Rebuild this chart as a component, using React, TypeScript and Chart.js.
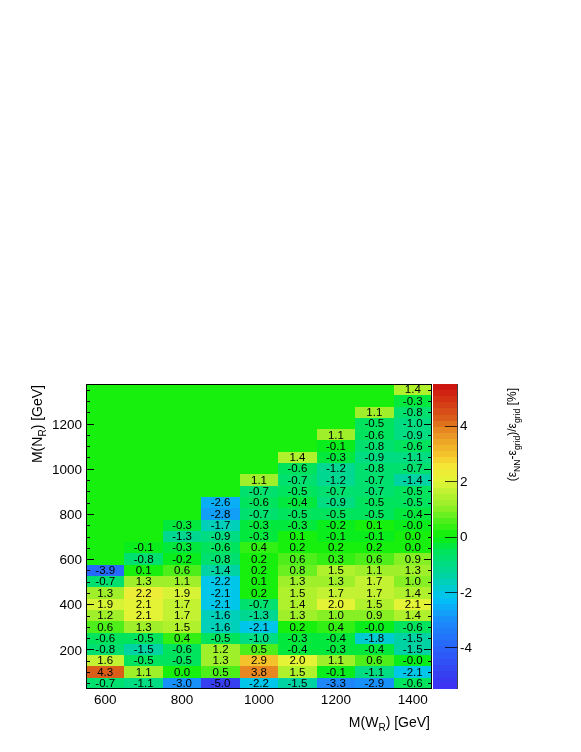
import React, { useEffect, useRef } from 'react';
import { Chart, registerables } from 'chart.js';

Chart.register(...registerables);

// Bin centres (GeV)
const wrMasses = [600, 700, 800, 900, 1000, 1100, 1200, 1300, 1400];
const nrMasses = [50, 100, 150, 200, 250, 300, 350, 400, 450, 500, 550, 600, 650, 700,
  750, 800, 850, 900, 950, 1000, 1050, 1100, 1150, 1200, 1250, 1300, 1350];

// (eps_NN - eps_grid)/eps_grid [%] for each W_R mass, from the lowest N_R mass upward
const diff600 = [-0.7, 4.3, 1.6, -0.8, -0.6, 0.6, 1.2, 1.9, 1.3, -0.7, -3.9];
const diff700 = [-1.1, 1.1, -0.5, -1.5, -0.5, 1.3, 2.1, 2.1, 2.2, 1.3, 0.1, -0.8, -0.1];
const diff800 = [-3.0, 0.03, -0.5, -0.6, 0.4, 1.5, 1.7, 1.7, 1.9, 1.1, 0.6, -0.2, -0.3, -1.3, -0.3];
const diff900 = [-5.0, 0.5, 1.3, 1.2, -0.5, -1.6, -1.6, -2.1, -2.1, -2.2, -1.4, -0.8, -0.6, -0.9, -1.7, -2.8, -2.6];
const diff1000 = [-2.2, 3.8, 2.9, 0.5, -1.0, -2.1, -1.3, -0.7, 0.2, 0.1, 0.2, 0.2, 0.4, -0.3, -0.3, -0.7, -0.6, -0.7, 1.1];
const diff1100 = [-1.5, 1.5, 2.0, -0.4, -0.3, 0.2, 1.3, 1.4, 1.5, 1.3, 0.8, 0.6, 0.2, 0.1, -0.3, -0.5, -0.4, -0.5, -0.7, -0.6, 1.4];
const diff1200 = [-3.3, -0.1, 1.1, -0.3, -0.4, 0.4, 1.0, 2.0, 1.7, 1.3, 1.5, 0.3, 0.2, -0.1, -0.2, -0.5, -0.9, -0.7, -1.2, -1.2, -0.3, -0.1, 1.1];
const diff1300 = [-2.9, -1.1, 0.6, -0.4, -1.8, -0.03, 0.9, 1.5, 1.7, 1.7, 1.1, 0.6, 0.2, -0.1, 0.1, -0.5, -0.5, -0.7, -0.7, -0.8, -0.9, -0.8, -0.6, -0.5, 1.1];
const diff1400 = [-0.6, -2.1, -0.03, -1.5, -1.5, -0.6, 1.4, 2.1, 1.4, 1.0, 1.3, 0.9, 0.03, 0.03, -0.03, -0.4, -0.5, -0.5, -1.4, -0.7, -1.1, -0.6, -0.9, -1.0, -0.8, -0.3, 1.4];

const diffColumns = [diff600, diff700, diff800, diff900, diff1000, diff1100, diff1200, diff1300, diff1400];

// Axis ranges and tick labels
const xRange = [550, 1450];
const yRange = [25, 1375];
const zRange = [-5.5, 5.5];
const xTickLabels = [600, 800, 1000, 1200, 1400];
const yTickLabels = [200, 400, 600, 800, 1000, 1200];
const zTickLabels = [-4, -2, 0, 2, 4];
const minorStep = 50;

// palette stops [value, r, g, b]
const paletteStops: number[][] = [
  [-5.5, 62, 48, 245],
  [-5.0, 55, 62, 240],
  [-4.0, 40, 100, 250],
  [-3.0, 25, 142, 250],
  [-2.2, 0, 196, 245],
  [-1.5, 0, 210, 168],
  [-1.0, 0, 220, 130],
  [-0.5, 0, 228, 88],
  [0.0, 10, 240, 10],
  [0.5, 70, 238, 25],
  [1.1, 150, 240, 40],
  [1.6, 190, 242, 48],
  [2.0, 225, 245, 55],
  [2.5, 245, 232, 55],
  [2.9, 245, 200, 45],
  [3.8, 232, 140, 35],
  [4.3, 218, 92, 25],
  [5.0, 210, 45, 20],
  [5.5, 205, 15, 15],
];
const nLevels = 50;

function interpColor(v: number): string {
  const s = paletteStops;
  if (v <= s[0][0]) return `rgb(${s[0][1]},${s[0][2]},${s[0][3]})`;
  for (let i = 1; i < s.length; i++) {
    if (v <= s[i][0]) {
      const t = (v - s[i - 1][0]) / (s[i][0] - s[i - 1][0]);
      const c = [1, 2, 3].map((k) => Math.round(s[i - 1][k] + t * (s[i][k] - s[i - 1][k])));
      return `rgb(${c[0]},${c[1]},${c[2]})`;
    }
  }
  const l = s[s.length - 1];
  return `rgb(${l[1]},${l[2]},${l[3]})`;
}

function levelOf(v: number): number {
  const f = (v - zRange[0]) / (zRange[1] - zRange[0]);
  return Math.max(0, Math.min(nLevels - 1, Math.floor(f * nLevels)));
}
function levelColor(level: number): string {
  const dz = (zRange[1] - zRange[0]) / nLevels;
  return interpColor(zRange[0] + (level + 0.5) * dz);
}
function colorFor(v: number): string {
  return levelColor(levelOf(v));
}

const FONT = '"Liberation Sans", Arial, Helvetica, sans-serif';
const font = (size: number) => `${size}px ${FONT}`;

type Seg = { t: string; sub?: boolean };
function drawRich(ctx: CanvasRenderingContext2D, segs: Seg[], size: number, x: number, y: number, rot: number) {
  ctx.save();
  ctx.translate(x, y);
  ctx.rotate(rot);
  ctx.textAlign = 'left';
  ctx.textBaseline = 'alphabetic';
  ctx.fillStyle = '#000';
  const subSize = size * 0.72;
  const widths = segs.map((s) => {
    ctx.font = font(s.sub ? subSize : size);
    return ctx.measureText(s.t).width;
  });
  const total = widths.reduce((a, b) => a + b, 0);
  let pos = -total;
  segs.forEach((s, i) => {
    ctx.font = font(s.sub ? subSize : size);
    ctx.fillText(s.t, pos, s.sub ? size * 0.32 : 0);
    pos += widths[i];
  });
  ctx.restore();
}

const heatmapPlugin = {
  id: 'heatmap',
  beforeDatasetsDraw(chart: any) {
    const { ctx, chartArea: ca, scales } = chart;
    const xs = scales.x;
    const ys = scales.y;
    const hx = (wrMasses[1] - wrMasses[0]) / 2;
    const hy = (nrMasses[1] - nrMasses[0]) / 2;
    ctx.save();
    ctx.fillStyle = colorFor(0);
    ctx.fillRect(ca.left, ca.top, ca.right - ca.left, ca.bottom - ca.top);
    const data = chart.data.datasets[0].data as { x: number; y: number; v: number }[];
    for (const d of data) {
      const x0 = Math.round(xs.getPixelForValue(d.x - hx));
      const x1 = Math.round(xs.getPixelForValue(d.x + hx));
      const y0 = Math.round(ys.getPixelForValue(d.y + hy));
      const y1 = Math.round(ys.getPixelForValue(d.y - hy));
      ctx.fillStyle = colorFor(d.v);
      ctx.fillRect(x0, y0, x1 - x0, y1 - y0);
    }
    ctx.fillStyle = '#000';
    ctx.font = font(11.5);
    ctx.textAlign = 'center';
    ctx.textBaseline = 'middle';
    for (const d of data) {
      const cx = xs.getPixelForValue(d.x);
      const cy = ys.getPixelForValue(d.y);
      ctx.fillText(d.v.toFixed(1), cx, cy + 0.5);
    }
    ctx.restore();
  },
  afterDraw(chart: any) {
    const { ctx, chartArea: ca, scales } = chart;
    const xs = scales.x;
    const ys = scales.y;
    const zs = scales.z;
    ctx.save();
    ctx.strokeStyle = '#000';
    ctx.lineWidth = 1;
    // y ticks (left and right)
    ctx.beginPath();
    for (let v = yRange[0] + 25; v <= yRange[1]; v += minorStep) {
      const py = Math.round(ys.getPixelForValue(v)) + 0.5;
      const len = yTickLabels.includes(v) ? 8 : 4;
      ctx.moveTo(ca.left, py); ctx.lineTo(ca.left + len, py);
      ctx.moveTo(ca.right, py); ctx.lineTo(ca.right - len, py);
    }
    ctx.stroke();
    // frame
    ctx.strokeRect(Math.round(ca.left) + 0.5, Math.round(ca.top) + 0.5,
      Math.round(ca.right - ca.left) - 1, Math.round(ca.bottom - ca.top) - 1);

    // tick labels
    ctx.fillStyle = '#000';
    ctx.font = font(13.5);
    ctx.textBaseline = 'middle';
    ctx.textAlign = 'center';
    for (const v of xTickLabels) ctx.fillText(String(v), xs.getPixelForValue(v), ca.bottom + 11);
    ctx.textAlign = 'right';
    for (const v of yTickLabels) ctx.fillText(String(v), ca.left - 4, ys.getPixelForValue(v) + 1.5);

    // colour bar
    const cbL = Math.round(zs.left) + 1;
    const cbR = cbL + 24;
    const dz = (zRange[1] - zRange[0]) / nLevels;
    for (let i = 0; i < nLevels; i++) {
      const yA = Math.round(zs.getPixelForValue(zRange[0] + i * dz));
      const yB = Math.round(zs.getPixelForValue(zRange[0] + (i + 1) * dz));
      ctx.fillStyle = levelColor(i);
      ctx.fillRect(cbL, yB, cbR - cbL, yA - yB);
    }
    ctx.beginPath();
    ctx.moveTo(cbR + 0.5, zs.top);
    ctx.lineTo(cbR + 0.5, zs.bottom);
    for (const v of zTickLabels) {
      const py = Math.round(zs.getPixelForValue(v)) + 0.5;
      ctx.moveTo(cbR + 0.5, py);
      ctx.lineTo(cbR - 12, py);
    }
    ctx.strokeStyle = 'rgba(0,0,0,0.75)';
    ctx.stroke();
    ctx.fillStyle = '#000';
    ctx.textAlign = 'left';
    for (const v of zTickLabels) ctx.fillText(String(v), cbR + 3, zs.getPixelForValue(v) + 1);
    ctx.restore();

    // titles
    drawRich(ctx, [{ t: 'M(W' }, { t: 'R', sub: true }, { t: ') [GeV]' }], 14, ca.right - 2, 727, 0);
    drawRich(ctx, [{ t: 'M(N' }, { t: 'R', sub: true }, { t: ') [GeV]' }], 14, 42, ca.top + 1, -Math.PI / 2);
    drawRich(ctx, [
      { t: '(ε' }, { t: 'NN', sub: true }, { t: '-ε' }, { t: 'grid', sub: true },
      { t: ')/ε' }, { t: 'grid', sub: true }, { t: ' [%]' },
    ], 12, 516, ca.top + 4, -Math.PI / 2);
  },
};

export default function App() {
  const canvasRef = useRef<HTMLCanvasElement | null>(null);

  useEffect(() => {
    const canvas = canvasRef.current;
    if (!canvas) return;
    const cells: { x: number; y: number; v: number }[] = [];
    diffColumns.forEach((col, c) => {
      col.forEach((v, j) => cells.push({ x: wrMasses[c], y: nrMasses[j], v }));
    });
    const chart = new Chart(canvas, {
      type: 'scatter',
      data: {
        datasets: [{ data: cells as any, pointRadius: 0, pointHoverRadius: 0, showLine: false }],
      },
      options: {
        animation: false,
        responsive: false,
        devicePixelRatio: 1,
        events: [],
        layout: { padding: { left: 8, right: 49, top: 384, bottom: 23 } },
        plugins: { legend: { display: false }, tooltip: { enabled: false } },
        scales: {
          x: {
            type: 'linear', position: 'bottom', min: xRange[0], max: xRange[1],
            grid: { display: false }, border: { display: false },
            afterBuildTicks: (s: any) => { s.ticks = xTickLabels.map((v) => ({ value: v })); },
            afterFit: (s: any) => { s.height = 40; },
            ticks: { display: false },
          },
          y: {
            type: 'linear', position: 'left', min: yRange[0], max: yRange[1],
            grid: { display: false }, border: { display: false },
            afterBuildTicks: (s: any) => { s.ticks = yTickLabels.map((v) => ({ value: v })); },
            afterFit: (s: any) => { s.width = 78; },
            ticks: { display: false },
          },
          z: {
            axis: 'y', type: 'linear', position: 'right', min: zRange[0], max: zRange[1],
            grid: { display: false }, border: { display: false },
            afterBuildTicks: (s: any) => { s.ticks = zTickLabels.map((v) => ({ value: v })); },
            afterFit: (s: any) => { s.width = 100; },
            ticks: { display: false },
          },
        } as any,
      },
      plugins: [heatmapPlugin],
    });
    return () => chart.destroy();
  }, []);

  return (
    <div style={{ position: 'absolute', left: 0, top: 0, width: 581, height: 752, background: '#fff' }}>
      <canvas ref={canvasRef} width={581} height={752} style={{ display: 'block' }} />
    </div>
  );
}
